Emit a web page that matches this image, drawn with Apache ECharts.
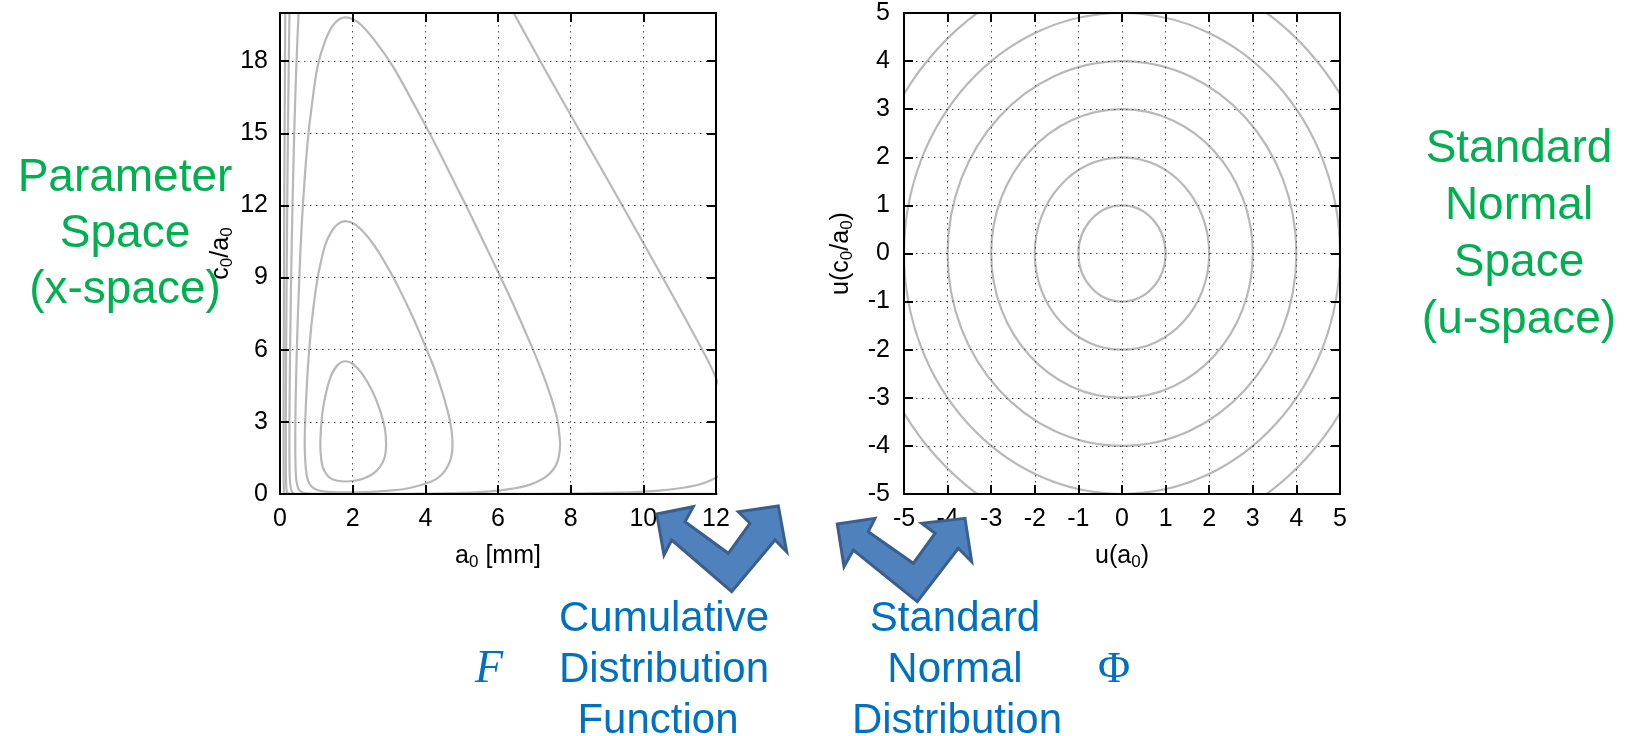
<!DOCTYPE html>
<html>
<head>
<meta charset="utf-8">
<script src="https://cdn.jsdelivr.net/npm/echarts@6.0.0/dist/echarts.min.js"></script>
<style>
html,body{margin:0;padding:0;background:#ffffff;}
#chart{width:1627px;height:736px;}
</style>
</head>
<body>
<div id="chart"></div>
<script>
// ---------------- data ----------------
const aRange = [0, 12];      // a0 [mm]
const cRange = [0, 20];      // c0/a0
const uRange = [-5, 5];      // u(a0), u(c0/a0)
const aStep = 2, cStep = 3, uStep = 1;

// contour lines in parameter space (x-space): [a0, c0/a0]
const contourX1 = [[2.92,2.08],[2.88,2.77],[2.74,3.53],[2.54,4.28],[2.29,4.93],[2.04,5.37],[1.80,5.52],[1.59,5.37],[1.41,4.93],[1.28,4.28],[1.18,3.53],[1.13,2.77],[1.11,2.08],[1.13,1.52],[1.18,1.11],[1.28,0.82],[1.41,0.64],[1.59,0.55],[1.80,0.52],[2.04,0.55],[2.29,0.64],[2.54,0.82],[2.74,1.11],[2.88,1.52],[2.92,2.08]];
const contourX2 = [[4.75,2.08],[4.71,2.77],[4.59,3.59],[4.41,4.51],[4.17,5.52],[3.57,7.63],[2.92,9.54],[2.31,10.87],[1.80,11.35],[1.40,10.87],[1.11,9.54],[0.91,7.63],[0.78,5.52],[0.71,3.59],[0.68,2.08],[0.71,1.08],[0.78,0.52],[0.91,0.25],[1.11,0.13],[1.40,0.08],[1.80,0.07],[2.31,0.08],[2.92,0.13],[3.57,0.25],[4.17,0.52],[4.41,0.75],[4.59,1.08],[4.71,1.52],[4.75,2.08]];
const contourX3 = [[7.71,2.08],[7.62,3.17],[7.34,4.56],[6.90,6.23],[6.35,8.12],[5.71,10.15],[5.04,12.23],[3.73,16.09],[2.62,18.83],[1.80,19.82],[1.24,18.83],[0.87,16.09],[0.64,12.23],[0.51,8.12],[0.44,4.56],[0.42,2.08],[0.44,0.74],[0.51,0.21],[0.64,0.05],[0.87,0.014],[1.24,0.006],[1.80,0.004],[2.62,0.006],[3.73,0.014],[5.04,0.05],[5.71,0.10],[6.35,0.21],[6.90,0.40],[7.34,0.74],[7.62,1.28],[7.71,2.08]];
const contourX4 = [[0.68,24.7],[0.46,18.17],[0.335,11.35],[0.276,5.69],[0.263,3.60],[0.259,2.08],[0.263,1.07],[0.276,0.49],[0.335,0.069],[0.46,0.007],[0.68,0.001],[1.80,0],[4.75,0.001],[7.10,0.007],[9.66,0.069],[10.44,0.14],[11.14,0.27],[11.73,0.49],[12.16,0.84],[12.43,1.36],[12.53,2.08],[12.43,3.04],[12.16,4.24],[11.73,5.69],[9.66,11.35],[7.10,18.17],[4.75,24.7]];
const contourX5 = [[0.324,25.5],[0.263,20.26],[0.220,15.25],[0.192,10.74],[0.173,6.97],[0.163,4.08],[0.159,2.08],[0.163,0.89],[0.173,0.31],[0.220,0.019],[0.324,0.001],[0.535,0],[1.80,0],[6.05,0],[10.0,0.001],[14.7,0.019]];
const contourX6 = [[0.179,26.85],[0.145,19.82],[0.122,13.57],[0.108,8.43],[0.100,4.59],[0.098,2.08],[0.100,0.73],[0.108,0.19],[0.145,0.004],[0.230,0],[0.420,0],[1.80,0],[7.71,0],[14.09,0]];

// contour radii in standard normal space (u-space), centred on the origin
const contourRadiiU = [1, 2, 3, 4, 5, 6];
const contourCentreU = [0, 0];

// ---------------- styling ----------------
const FF = '"Liberation Sans", Arial, Helvetica, sans-serif';
const CONTOUR = '#b8b8b8';
const GREEN = '#00B050';
const BLUE = '#0070C0';

const nameRich = {
  n: {fontSize: 25, fontFamily: FF, color: '#000', lineHeight: 30},
  s: {fontSize: 17, fontFamily: FF, color: '#000', lineHeight: 17, padding: [13, 0, 0, 0]}
};

function makeAxis(gi, pos, range, step, isMain, extra) {
  const isX = pos === 'bottom' || pos === 'top';
  return Object.assign({
    type: 'value', gridIndex: gi, position: pos,
    min: range[0], max: range[1], interval: step, z: 5,
    axisLine: {show: true, onZero: false, lineStyle: {color: '#000', width: 2}},
    axisTick: {show: true, inside: true, length: 9, lineStyle: {color: '#000', width: 2}},
    axisLabel: {show: isMain, color: '#000', fontSize: 25, fontFamily: FF, margin: isX ? 13 : 12},
    splitLine: {show: isMain, lineStyle: {color: '#4a4a4a', width: 1, type: [1.5, 4.5]}},
    nameTextStyle: {fontSize: 25, fontFamily: FF, color: '#000', rich: nameRich}
  }, extra || {});
}

const xAxes = [
  makeAxis(0, 'bottom', aRange, aStep, true, {name: '{n|a}{s|0}{n| [mm]}', nameLocation: 'middle', nameGap: 47}),
  makeAxis(0, 'top', aRange, aStep, false),
  makeAxis(1, 'bottom', uRange, uStep, true, {name: '{n|u(a}{s|0}{n|)}', nameLocation: 'middle', nameGap: 47}),
  makeAxis(1, 'top', uRange, uStep, false)
];
const yAxes = [
  makeAxis(0, 'left', cRange, cStep, true, {name: '{n|c}{s|0}{n|/a}{s|0}', nameLocation: 'middle', nameRotate: 90, nameGap: 31}),
  makeAxis(0, 'right', cRange, cStep, false),
  makeAxis(1, 'left', uRange, uStep, true, {name: '{n|u(c}{s|0}{n|/a}{s|0}{n|)}', nameLocation: 'middle', nameRotate: 90, nameGap: 48}),
  makeAxis(1, 'right', uRange, uStep, false)
];
yAxes[0].axisLabel.showMaxLabel = false;
yAxes[2].axisLabel.margin = 14;

const xContours = [contourX1, contourX2, contourX3, contourX4, contourX5, contourX6];
const series = xContours.map(pts => ({
  type: 'line', xAxisIndex: 0, yAxisIndex: 0, data: pts,
  smooth: 0.4, symbol: 'none', clip: true, silent: true, z: 2,
  lineStyle: {color: CONTOUR, width: 2.2}
}));
series.push({
  type: 'custom', coordinateSystem: 'cartesian2d', xAxisIndex: 2, yAxisIndex: 2,
  data: contourRadiiU.map(r => [contourCentreU[0], contourCentreU[1], r]),
  encode: {x: 0, y: 1}, clip: true, silent: true, z: 2,
  renderItem: function (params, api) {
    const c = api.coord([api.value(0), api.value(1)]);
    const s = api.size([api.value(2), api.value(2)]);
    const cs = params.coordSys;
    return {
      type: 'ellipse',
      shape: {cx: c[0], cy: c[1], rx: s[0], ry: s[1]},
      style: {fill: 'none', stroke: CONTOUR, lineWidth: 2.2},
      clipPath: {type: 'rect', shape: {x: cs.x, y: cs.y, width: cs.width, height: cs.height}}
    };
  }
});

function txt(x, y, text, font, color) {
  return {type: 'text', x: x, y: y, z: 100,
    style: {text: text, font: font, fill: color, textAlign: 'center', textVerticalAlign: 'middle'}};
}
const gFont = '46px "Liberation Sans", Arial, sans-serif';
const bFont = '42px "Liberation Sans", Arial, sans-serif';
const arrowStyle = {fill: '#4F81BD', stroke: '#3A5F8F', lineWidth: 3, lineJoin: 'miter'};

const graphics = [
  txt(125, 178, 'Parameter', gFont, GREEN),
  txt(125, 234, 'Space', gFont, GREEN),
  txt(125, 290, '(x-space)', gFont, GREEN),
  txt(1519, 149.5, 'Standard', gFont, GREEN),
  txt(1519, 206.5, 'Normal', gFont, GREEN),
  txt(1519, 263.5, 'Space', gFont, GREEN),
  txt(1519, 320.5, '(u-space)', gFont, GREEN),
  txt(664, 619, 'Cumulative', bFont, BLUE),
  txt(664, 670, 'Distribution', bFont, BLUE),
  txt(658, 721, 'Function', bFont, BLUE),
  txt(955, 619, 'Standard', bFont, BLUE),
  txt(955, 670, 'Normal', bFont, BLUE),
  txt(957, 721, 'Distribution', bFont, BLUE),
  txt(489, 670, 'F', 'italic 46px "Liberation Serif", "DejaVu Serif", serif', BLUE),
  txt(1114, 670, '\u03A6', '44px "Liberation Serif", "DejaVu Serif", serif', BLUE),
  {type: 'polygon', z: 100, shape: {points: [[656.7,514],[693.3,506.7],[685,521.7],[728.3,553.3],[750,523.3],[738.3,511.7],[778.3,506],[786.7,551.7],[775,540],[731.7,591.7],[671.7,540],[664,555]]}, style: arrowStyle},
  {type: 'polygon', z: 100, shape: {points: [[837.3,524],[875,518.3],[868.3,531.7],[913.3,563.3],[935,533.3],[921.7,523.3],[965,518.3],[971.7,561.7],[958.3,548.3],[917.3,601.7],[853.3,550],[844,566.7]]}, style: arrowStyle}
];

const chart = echarts.init(document.getElementById('chart'), null, {renderer: 'canvas'});
chart.setOption({
  animation: false,
  backgroundColor: '#ffffff',
  grid: [
    {left: 280, top: 13, width: 436, height: 481, containLabel: false, outerBoundsMode: 'none'},
    {left: 904, top: 13, width: 436, height: 481, containLabel: false, outerBoundsMode: 'none'}
  ],
  xAxis: xAxes,
  yAxis: yAxes,
  series: series,
  graphic: {elements: graphics}
});
</script>
</body>
</html>
